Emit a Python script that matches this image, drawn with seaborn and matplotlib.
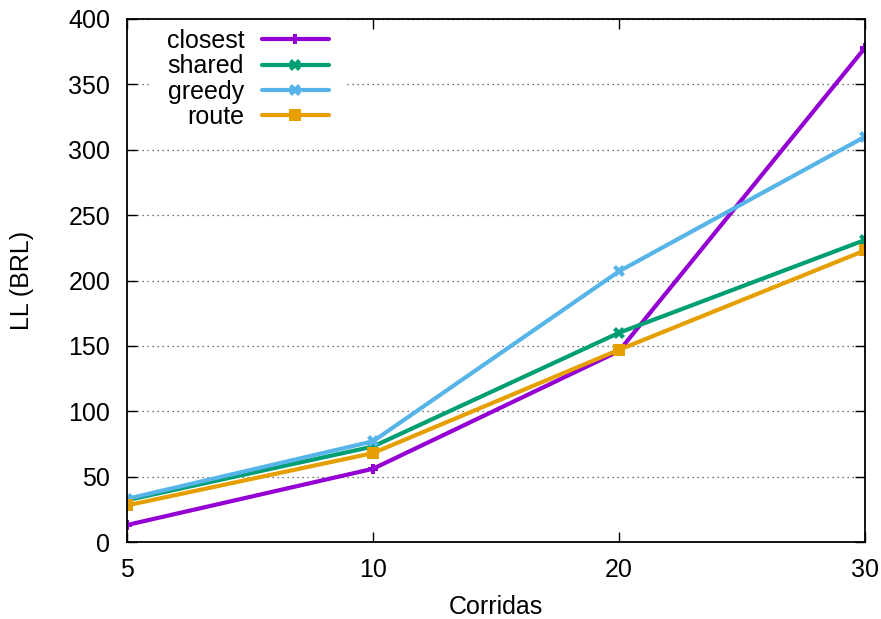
import matplotlib
matplotlib.use("Agg")
import matplotlib.pyplot as plt
import seaborn as sns
import pandas as pd

corridas = ["5", "10", "20", "30"]
closest = [13, 56, 146, 378]
shared = [32, 73, 160, 231]
greedy = [33, 77, 207, 310]
route = [28, 68, 147, 223]

series = {"closest": closest, "shared": shared, "greedy": greedy, "route": route}
colors = {"closest": "#9400D3", "shared": "#009E73", "greedy": "#56B4E9", "route": "#E69F00"}
markers = {"closest": "P", "shared": "X", "greedy": "X", "route": "s"}
msizes = {"closest": 7, "shared": 8, "greedy": 9, "route": 9}

rows = []
for name, vals in series.items():
    for i, (c, v) in enumerate(zip(corridas, vals)):
        rows.append({"pos": i, "Corridas": c, "value": v, "algo": name})
df = pd.DataFrame(rows)

sns.set_theme(style="ticks")
plt.rcParams['font.family'] = ['Liberation Sans', 'DejaVu Sans']
plt.rcParams['text.color'] = 'black'
plt.rcParams['axes.labelcolor'] = 'black'
plt.rcParams['xtick.color'] = 'black'
plt.rcParams['ytick.color'] = 'black'
FS = 18

fig = plt.figure(figsize=(8.81, 6.19), dpi=100)
ax = fig.add_axes([127/881, 1-542/619, (865-127)/881, (542-19)/619])

for name in series:
    sub = df[df.algo == name]
    sns.lineplot(data=sub, x="pos", y="value", ax=ax, color=colors[name],
                 marker=markers[name], markersize=msizes[name], linewidth=3,
                 markeredgewidth=0, label=name)

ax.set_xlim(0, 3)
ax.set_ylim(0, 400)
ax.set_xticks(range(len(corridas)))
ax.set_xticklabels(corridas)
ax.set_yticks(range(0, 401, 50))
ax.yaxis.grid(True, linestyle=(0, (1, 3)), color="#444444", linewidth=0.9)
ax.set_xlabel("Corridas", fontsize=FS, labelpad=9.5)
ax.set_ylabel("LL (BRL)", fontsize=FS, labelpad=25)
ax.tick_params(axis="y", direction="in", labelsize=FS, left=True, right=True, length=7, width=1, pad=12)
ax.tick_params(axis="x", direction="in", labelsize=FS, bottom=True, top=True, length=7, width=1, pad=11.5)
for s in ax.spines.values():
    s.set_linewidth(1.3)
    s.set_color("black")

leg = ax.legend(loc="upper left", bbox_to_anchor=(0.04, 1.0), frameon=True, fontsize=FS,
                markerfirst=False, handlelength=2.7, handletextpad=0.7, labelspacing=0.05,
                borderpad=0.2, borderaxespad=0.2)
leg.get_frame().set_edgecolor("none")
leg.get_frame().set_facecolor("white")
leg.get_frame().set_alpha(1)
leg.get_frame().set_boxstyle("square", pad=0.5)
leg.set_zorder(2.4)
for t in leg.get_texts():
    t.set_ha("right")
leg._legend_box.align = "right"

fig.savefig("out.png", dpi=100)
